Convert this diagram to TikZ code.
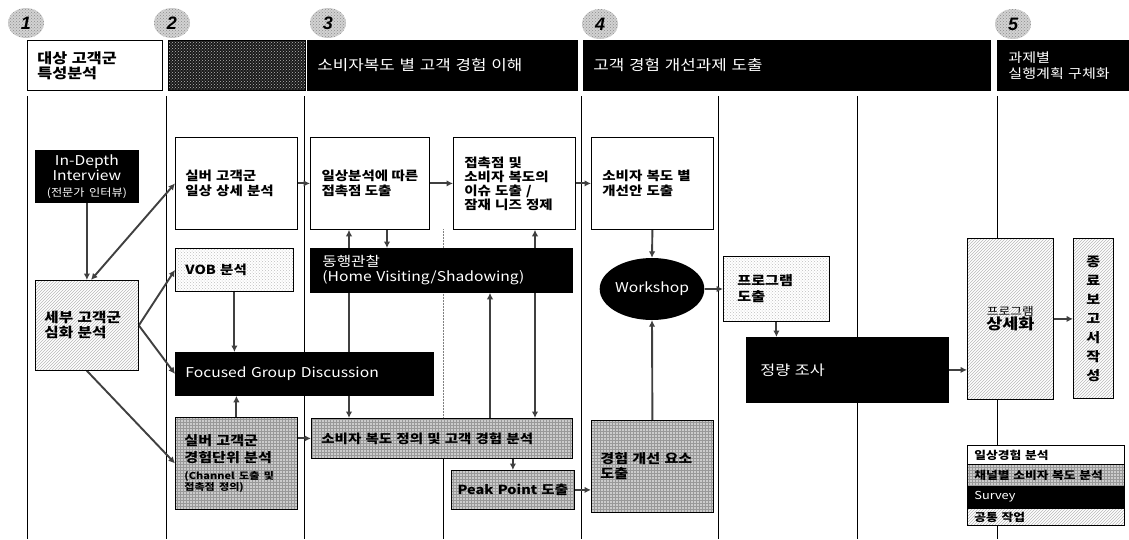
\documentclass[tikz,border=0pt]{standalone}
\usepackage{fontspec}
\setmainfont{Noto Sans CJK KR}[FakeStretch=1.16]
\newfontfamily\numfont{Liberation Sans}
\usetikzlibrary{patterns,arrows.meta,shapes.geometric}
\pgfdeclarelayer{bottom}
\pgfdeclarelayer{background}
\pgfsetlayers{bottom,background,main}
\begin{document}
\begin{tikzpicture}[x=1pt,y=-1pt,
  bx/.style={draw=black, line width=0.8pt, anchor=north west, inner xsep=10pt, inner ysep=0pt, align=left, font=\bfseries\fontsize{12.5}{14.5}\selectfont},
  wbox/.style={bx, fill=white},
  kbox/.style={bx, fill=black, text=white, font=\fontsize{13.5}{15}\selectfont},
  hbox/.style={bx, preaction={fill=white}, pattern=north east lines, pattern color=gray!55},
  dbox/.style={bx, preaction={fill=white}, pattern=crosshatch dots, pattern color=gray!50},
  gbox/.style={bx, preaction={fill=gray!40}, pattern=grid, pattern color=gray!80},
  arr/.style={line width=1.9pt, draw=black!75, -{Latex[length=6.5pt,width=6.5pt]}},
  darr/.style={line width=1.9pt, draw=black!75, {Latex[length=6.5pt,width=6.5pt]}-{Latex[length=6.5pt,width=6.5pt]}},
  colline/.style={line width=0.9pt, black},
  numc/.style={ellipse, minimum width=36pt, minimum height=30pt, inner sep=0pt, preaction={fill=gray!35}, pattern=crosshatch dots, pattern color=gray!90, font=\numfont\bfseries\itshape\fontsize{18}{18}\selectfont},
]
\useasboundingbox (0,0) rectangle (1129,539);
\begin{pgfonlayer}{bottom}
\fill[white] (0,0) rectangle (1129,539);
\end{pgfonlayer}

% step numbers
\node[numc] (n1) at (26,23) {1};
\node[numc] (n2) at (172,23) {2};
\node[numc] (n3) at (328,23) {3};
\node[numc] (n4) at (600,24) {4};
\node[numc] (n5) at (1013,24) {5};

% headers
\node[wbox, text width=115pt, minimum height=50pt, font=\bfseries\fontsize{14}{15}\selectfont] (h1) at (27,40) {대상 고객군\\특성분석};
\node[bx, minimum width=137pt, minimum height=50pt, preaction={fill=black!90}, pattern=crosshatch dots, pattern color=gray!55] (h2) at (168,40) {};
\node[kbox, text width=250pt, minimum height=50pt, font=\fontsize{14.5}{16}\selectfont] (h3) at (307,40) {소비자복도 별 고객 경험 이해};
\node[kbox, text width=387pt, minimum height=50pt, font=\fontsize{14.5}{16}\selectfont] (h4) at (583,40) {고객 경험 개선과제 도출};
\node[kbox, text width=110pt, inner xsep=11pt, minimum height=50pt, font=\fontsize{13}{16}\selectfont] (h5) at (997,40) {과제별\\실행계획 구체화};

% column 1
\node[kbox, text width=91pt, inner xsep=6pt, minimum height=52pt, align=center, font=\fontsize{13.5}{15.5}\selectfont] (idi) at (35,150) {In-Depth\\Interview\\{\fontsize{10.5}{12}\selectfont(전문가 인터뷰)}};
\node[hbox, text width=85pt, inner xsep=9pt, minimum height=90pt, font=\bfseries\fontsize{13.5}{15}\selectfont] (sebu) at (35,280) {세부 고객군\\심화 분석};

% column 2
\node[wbox, text width=102pt, minimum height=92pt] (silver1) at (175,137) {실버 고객군\\일상 상세 분석};
\node[dbox, text width=98pt, minimum height=43pt] (vob) at (175,248) {VOB 분석};
\node[kbox, text width=238pt, minimum height=43pt] (fgd) at (175,352) {Focused Group Discussion};
\node[gbox, text width=104pt, inner xsep=9pt, minimum height=92pt, font=\bfseries\fontsize{13}{17}\selectfont] (silver2) at (175,417) {실버 고객군\\경험단위 분석\\{\fontsize{9.5}{11}\selectfont(Channel 도출 및}\\[-6pt]{\fontsize{9.5}{11}\selectfont 접촉점 정의)}};

% column 3
\node[wbox, minimum width=119pt, minimum height=92pt, inner xsep=3pt] (ilsang) at (310,137) {일상분석에 따른\\접촉점 도출};
\node[wbox, text width=100pt, inner xsep=11pt, minimum height=92pt, font=\bfseries\fontsize{12.5}{14}\selectfont] (jeopchok) at (453,137) {접촉점 및\\소비자 복도의\\이슈 도출 /\\잠재 니즈 정제};
\node[kbox, text width=238pt, inner xsep=12pt, minimum height=44pt] (donghaeng) at (310,248) {동행관찰\\(Home Visiting/Shadowing)};
\node[gbox, text width=241pt, minimum height=40pt] (sobija) at (311,418) {소비자 복도 정의 및 고객 경험 분석};
\node[gbox, text width=117pt, inner xsep=3pt, minimum height=39pt, align=center] (peak) at (451,470) {Peak Point 도출};

% column 4
\node[wbox, text width=100pt, inner xsep=11pt, minimum height=92pt] (gaeseonan) at (591,137) {소비자 복도 별\\개선안 도출};
\node[ellipse, fill=black, text=white, minimum width=84pt, minimum height=62pt, inner sep=0pt, font=\fontsize{13.5}{15}\selectfont] (workshop) at (652,289) {Workshop};
\node[gbox, text width=104pt, inner xsep=9pt, minimum height=92pt, font=\bfseries\fontsize{13}{15}\selectfont] (gyeongheom) at (591,420) {경험 개선 요소\\도출};
\node[dbox, text width=78pt, inner xsep=14pt, minimum height=65pt, font=\bfseries\fontsize{13}{16}\selectfont] (progdo) at (723,256) {프로그램\\도출};
\node[kbox, text width=174pt, inner xsep=14pt, minimum height=65pt, font=\fontsize{14}{16}\selectfont] (jeongryang) at (746,337) {정량 조사};

% column 5
\node[hbox, text width=76pt, inner xsep=5pt, minimum height=161pt, align=center] (progsang) at (967,238) {{\mdseries\fontsize{11}{13}\selectfont 프로그램}\\{\fontsize{15}{17}\selectfont 상세화}};
\node[hbox, text width=30pt, inner xsep=5pt, minimum height=160pt, align=center, font=\bfseries\fontsize{13}{19}\selectfont] (jongryo) at (1073,238) {종\\료\\보\\고\\서\\작\\성};

% legend
\node[wbox, text width=143pt, inner xsep=7pt, minimum height=19pt, font=\bfseries\fontsize{11}{12}\selectfont] (lg1) at (967,445) {일상경험 분석};
\node[gbox, text width=143pt, inner xsep=7pt, minimum height=22pt, font=\bfseries\fontsize{11}{12}\selectfont] (lg2) at (967,464) {채널별 소비자 복도 분석};
\node[kbox, text width=143pt, inner xsep=7pt, minimum height=21pt, font=\fontsize{11}{12}\selectfont] (lg3) at (967,486) {Survey};
\node[hbox, text width=143pt, inner xsep=7pt, minimum height=17pt, font=\bfseries\fontsize{11}{12}\selectfont] (lg4) at (967,508) {공통 작업};

\begin{pgfonlayer}{background}
\foreach \x in {27,166,304,581,718,857,997} \draw[colline] (\x,96) -- (\x,539);
\draw[line width=0.5pt, gray, densely dotted] (443,229) -- (443,418);
\draw[colline] (443,458) -- (443,539);

\draw[arr] (idi.south) -- (sebu.north);
\draw[darr] (silver1.west) -- (sebu.north -| 91,0);
\draw[arr] (sebu.east) -- (vob.west);
\draw[arr] (sebu.east) -- (fgd.west);
\draw[arr] (sebu.south) -- (silver2.west);
\draw[arr] (vob.south) -- (vob.south |- fgd.north);
\draw[arr] (silver2.north) -- (silver2.north |- fgd.south);
\draw[arr] (silver1.east) -- (ilsang.west);
\draw[arr] (ilsang.east) -- (jeopchok.west);
\draw[arr] (jeopchok.east) -- (gaeseonan.west);
\draw[darr] (ilsang.south -| 349,0) -- (sobija.north -| 349,0);
\draw[arr] (ilsang.south -| 387,0) -- (donghaeng.north -| 387,0);
\draw[arr] (sobija.north -| 490,0) -- (donghaeng.south -| 490,0);
\draw[darr] (jeopchok.south -| 535,0) -- (sobija.north -| 535,0);
\draw[arr] (silver2.east |- sobija.west) -- (sobija.west);
\draw[arr] (peak.north |- sobija.south) -- (peak.north);
\draw[arr] (peak.east) -- (peak.east -| gyeongheom.west);
\draw[arr] (gyeongheom.north) -- (workshop.south);
\draw[arr] (gaeseonan.south) -- (workshop.north);
\draw[arr] (workshop.east) -- (workshop.east -| progdo.west);
\draw[arr] (progdo.south) -- (progdo.south |- jeongryang.north);
\draw[arr] (jeongryang.east) -- (jeongryang.east -| progsang.west);
\draw[arr] (progsang.east) -- (progsang.east -| jongryo.west);
\end{pgfonlayer}
\end{tikzpicture}
\end{document}
